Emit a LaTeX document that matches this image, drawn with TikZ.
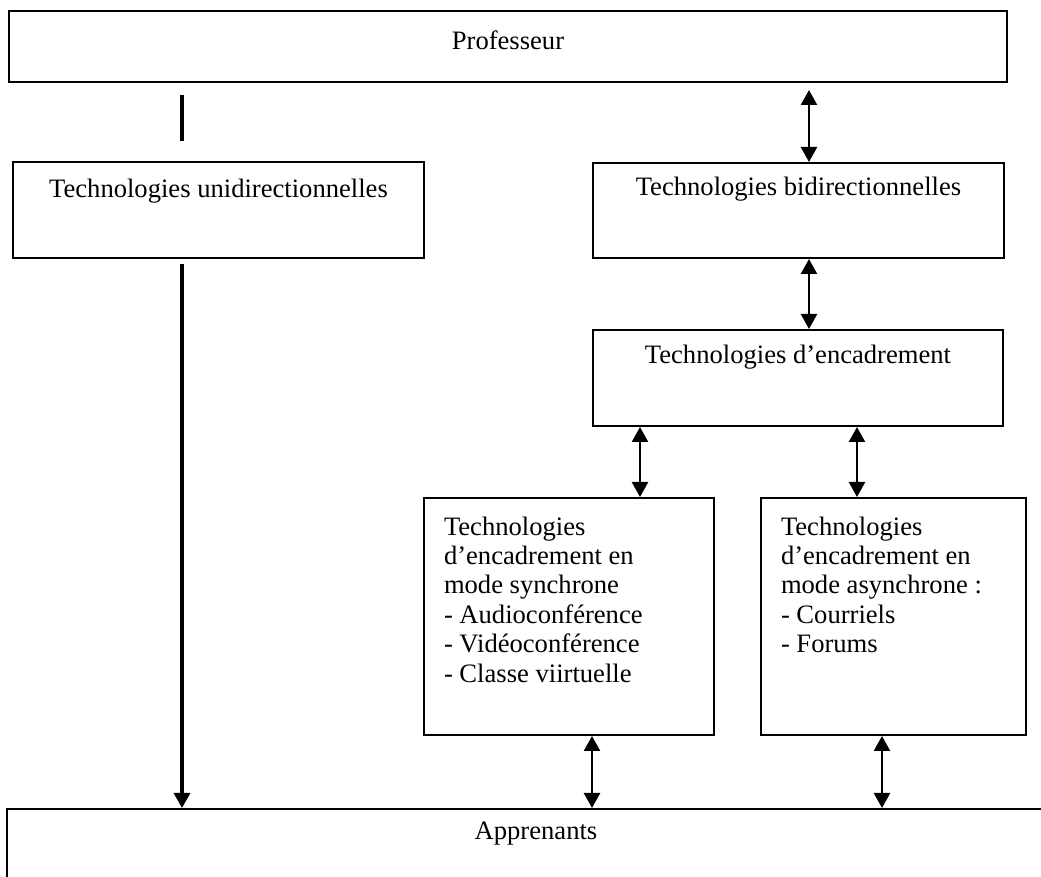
\documentclass[tikz,border=0pt]{standalone}
\usepackage{fontspec}
\setmainfont{Liberation Serif}
\usepackage{tikz}
\usetikzlibrary{arrows.meta}
\tikzset{
  cadre/.style = {draw, line width=1pt, inner sep=0pt, anchor=north west,
    font=\fontsize{13.3pt}{14.75pt}\selectfont},% boite du schema
  lien/.style = {line width=1.2pt},% fleche double
  lienlong/.style = {line width=1.6pt},% fleche simple
}
% contenu d'une boite : largeur, hauteur, texte
\newcommand{\contenu}[3]{\parbox[c][#2][t]{#1}{#3}}

\begin{document}
\begin{tikzpicture}[x=0.5pt,y=-0.5pt,>={Triangle[length=7.5pt,width=8pt]}]
\useasboundingbox (0,0) rectangle (1041,877);

\node [cadre] (prof) at (8,10)
  {\contenu{499pt}{35.5pt}{\centering\rule{0pt}{19.5pt}Professeur}};
\node [cadre] (uni) at (12,161)
  {\contenu{205.5pt}{48pt}{\centering\rule{0pt}{18pt}Technologies unidirectionnelles}};
\node [cadre] (bi) at (592,162)
  {\contenu{205.5pt}{47.5pt}{\centering\rule{0pt}{16.5pt}Technologies bidirectionnelles}};
\node [cadre] (enc) at (592,329)
  {\contenu{205pt}{48pt}{\centering\rule{0pt}{17pt}Technologies d’encadrement}};
\node [cadre] (syn) at (423,497)
  {\contenu{145pt}{118.5pt}{\raggedright\leftskip=10pt\rule{0pt}{18.5pt}Technologies\\
    d’encadrement en\\ mode synchrone\\ - Audioconférence\\
    - Vidéoconférence\\ - Classe viirtuelle}};
\node [cadre] (asyn) at (760,497)
  {\contenu{132.5pt}{118.5pt}{\raggedright\leftskip=10pt\rule{0pt}{18.5pt}Technologies\\
    d’encadrement en\\ mode asynchrone :\\ - Courriels\\ - Forums}};
\node [cadre] (app) at (6,808)
  {\contenu{529pt}{50pt}{\centering\rule{0pt}{15.5pt}Apprenants}};

% abscisses des liens
\coordinate (xu) at (182,0);
\coordinate (xb) at (809,0);
\coordinate (xs) at (640,0);
\coordinate (xa) at (857,0);
\coordinate (ys) at (592,0);
\coordinate (ya) at (882,0);

\draw [line width=2.2pt] ([yshift=-6pt]prof.south -| xu) -- ([yshift=10pt]uni.north -| xu);
\draw [lienlong,->] ([yshift=-2.5pt]uni.south -| xu) -- (app.north -| xu);

\draw [lien,<->] ([yshift=-3.5pt]prof.south -| xb) -- (bi.north -| xb);
\draw [lien,<->] (bi.south -| xb) -- (enc.north -| xb);
\draw [lien,<->] (enc.south -| xs) -- (syn.north -| xs);
\draw [lien,<->] (enc.south -| xa) -- (asyn.north -| xa);
\draw [lien,<->] (syn.south -| ys) -- (app.north -| ys);
\draw [lien,<->] (asyn.south -| ya) -- (app.north -| ya);
\end{tikzpicture}
\end{document}
